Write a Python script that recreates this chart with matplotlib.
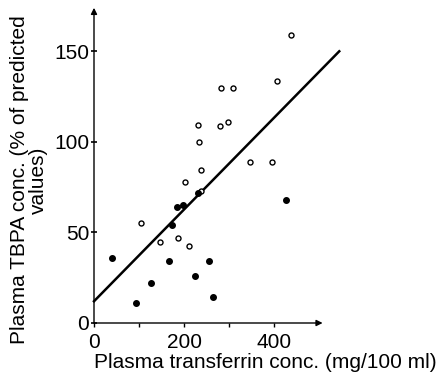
import matplotlib.pyplot as plt

plt.rcParams['font.family'] = ['Liberation Sans', 'DejaVu Sans']

# open circles
open_x = [105, 147, 186, 210, 202, 238, 237, 230, 233, 280, 298, 282, 308, 347, 396, 407, 437]
open_y = [55, 44.5, 47, 42.5, 78, 73, 84.5, 109.5, 100, 109, 111, 129.5, 129.5, 89, 89, 133.5, 159]
# filled circles
filled_x = [40, 93, 127, 167, 174, 185, 197, 230, 224, 255, 264, 426]
filled_y = [36, 11, 22, 34.5, 54, 64, 65, 71.5, 26, 34, 14.5, 68]
# regression line
fit_x = [0, 545]
fit_y = [12, 150]

xticks = [0, 200, 400]
xminor = [100, 300]
yticks = [0, 50, 100, 150]

fig = plt.figure(figsize=(4.4, 3.73), dpi=100)
ax = fig.add_axes([94 / 440, 50 / 373, 252 / 440, 317 / 373])
ax.set_xlim(0, 560)
ax.set_ylim(0, 175)

for s in ax.spines.values():
    s.set_visible(False)

ax.annotate('', xy=(508, 0), xytext=(0, 0),
            arrowprops=dict(arrowstyle='-|>', lw=1.0, color='black',
                            mutation_scale=9, shrinkA=0, shrinkB=0),
            annotation_clip=False)
ax.annotate('', xy=(0, 174), xytext=(0, 0),
            arrowprops=dict(arrowstyle='-|>', lw=1.0, color='black',
                            mutation_scale=9, shrinkA=0, shrinkB=0),
            annotation_clip=False)

ax.plot(fit_x, fit_y, color='black', lw=1.8, clip_on=False)
ax.plot(open_x, open_y, 'o', mfc='white', mec='black', ms=3.6, mew=1.0, clip_on=False)
ax.plot(filled_x, filled_y, 'o', color='black', ms=4.0, clip_on=False)

ax.set_xticks(xticks)
ax.set_xticks(xminor, minor=True)
ax.set_yticks(yticks)
ax.tick_params(axis='x', which='both', direction='out', length=3, width=1, pad=4, labelsize=15)
ax.tick_params(axis='y', direction='inout', length=5, width=1.2, pad=1, labelsize=15)

ax.set_xlabel('Plasma transferrin conc. (mg/100 ml)', fontsize=15, ha='left', x=0, labelpad=1)
fig.text(29 / 440, 1 - 180 / 373, 'Plasma TBPA conc. (% of predicted\nvalues)',
         rotation=90, ha='center', va='center', multialignment='center',
         fontsize=15, linespacing=1.0)

fig.savefig('out.png', dpi=100)
